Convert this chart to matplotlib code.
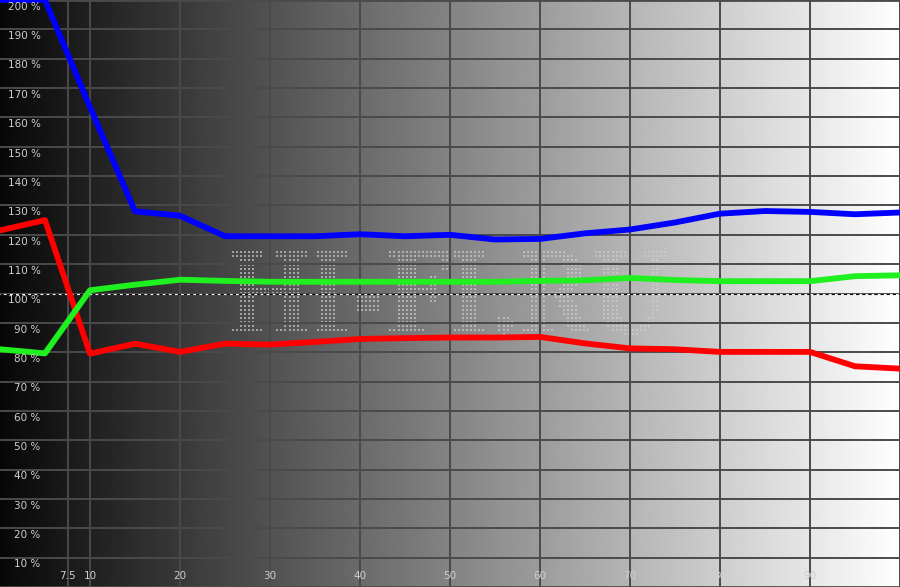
import matplotlib
matplotlib.use("Agg")
import matplotlib.pyplot as plt
import numpy as np

# stimulus level (%) and measured RGB balance (%)
levels = [0, 5, 10, 15, 20, 25, 30, 35, 40, 45, 50, 55, 60, 65, 70, 75, 80, 85, 90, 95, 100]
red = [121.5, 125.0, 79.5, 82.9, 80.1, 82.9, 82.6, 83.5, 84.5, 84.8, 85.0, 85.0, 85.2,
       83.0, 81.3, 81.0, 80.1, 80.1, 80.1, 75.2, 74.4]
green = [81.0, 79.6, 101.1, 103.0, 104.7, 104.3, 104.0, 104.0, 104.0, 104.0, 104.0, 104.0,
         104.3, 104.5, 105.3, 104.6, 104.2, 104.2, 104.2, 105.9, 106.2]
blue = [200.0, 200.0, 163.5, 128.0, 126.5, 119.5, 119.5, 119.5, 120.2, 119.5, 120.0, 118.4,
        118.6, 120.5, 121.8, 124.2, 127.2, 128.1, 127.8, 127.0, 127.6]

x_ticks = [7.5, 10, 20, 30, 40, 50, 60, 70, 80, 90]
x_labels = ["7.5", "10", "20", "30", "40", "50", "60", "70", "80", "90"]
y_ticks = list(range(10, 201, 10))
y_labels = [f"{v} %" for v in y_ticks]

GRID = "#4a4a4a"
LABEL = "#cfcfcf"


def dot_mask(text, ncols, nrows):
    """Render text offscreen and sample it on a coarse grid -> dot-matrix mask."""
    f = plt.figure(figsize=(8, 1.6), dpi=100)
    f.text(0.5, 0.5, text, ha="center", va="center", fontsize=60,
           family="DejaVu Serif", weight="bold")
    f.canvas.draw()
    img = np.asarray(f.canvas.buffer_rgba())[..., 0]
    plt.close(f)
    ink = img < 128
    rr = np.where(ink.any(axis=1))[0]
    cc = np.where(ink.any(axis=0))[0]
    crop = ink[rr[0]:rr[-1] + 1, cc[0]:cc[-1] + 1]
    ri = np.linspace(0, crop.shape[0] - 1, nrows).round().astype(int)
    ci = np.linspace(0, crop.shape[1] - 1, ncols).round().astype(int)
    return crop[np.ix_(ri, ci)]


fig = plt.figure(figsize=(9, 5.87), dpi=100)
ax = fig.add_axes([0, 0, 1, 1])
ax.set_xlim(0, 100)
ax.set_ylim(0, 200)

# black -> white ramp behind everything
ramp = np.linspace(0.03, 1.0, 512)[None, :]
ax.imshow(ramp, cmap="gray", vmin=0, vmax=1, extent=(0, 100, 0, 200),
          aspect="auto", interpolation="bilinear", zorder=0)

ax.set_xticks(x_ticks + [100])
ax.set_yticks(y_ticks)
ax.tick_params(length=0, labelbottom=False, labelleft=False)
ax.grid(True, color=GRID, linewidth=1.4, zorder=1)
ax.set_axisbelow(False)
for side, s in ax.spines.items():
    s.set_color(GRID)
    s.set_linewidth(2)
ax.spines["left"].set_visible(False)

# watermark
mask = dot_mask("HI-FI.RU", 108, 21)
wx0, wx1 = 233 / 9, 665 / 9
wy0, wy1 = (586.5 - 334) / 2.9325, (586.5 - 252) / 2.9325
gx = np.linspace(wx0, wx1, mask.shape[1])
gy = np.linspace(wy1, wy0, mask.shape[0])
GX, GY = np.meshgrid(gx, gy)
ax.scatter(GX[mask], GY[mask], s=3.8, marker="s", color="#d0d0d0", alpha=0.65,
           linewidths=0, zorder=2)

# 100 % reference
ax.axhline(100, color="white", linewidth=0.8, zorder=3)
ax.axhline(100, color="black", linewidth=0.8, dashes=(3, 2.5), zorder=3)

lw = 4.2
ax.plot(levels, red, color="#ff0000", linewidth=lw, zorder=4)
ax.plot(levels, green, color="#1ff01f", linewidth=lw, zorder=4)
ax.plot(levels, blue, color="#0000ff", linewidth=lw, zorder=4)

for v, lab in zip(y_ticks, y_labels):
    ax.text(4.5, v - 2.3, lab, ha="right", va="center", fontsize=7.5, color=LABEL, zorder=5)
for v, lab in zip(x_ticks, x_labels):
    ax.text(v, 3.6, lab, ha="center", va="center", fontsize=7.5, color=LABEL, zorder=5)

fig.savefig("out.png", dpi=100)
